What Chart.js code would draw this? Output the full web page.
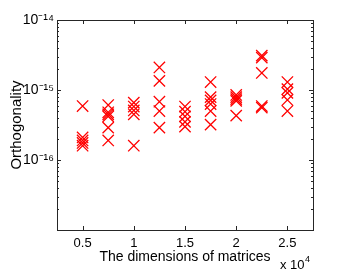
<!DOCTYPE html>
<html>
<head>
<meta charset="utf-8">
<script src="https://cdn.jsdelivr.net/npm/chart.js@4.4.1/dist/chart.umd.min.js"></script>
<style>
  html, body { margin: 0; padding: 0; background: #fff; }
  #wrap { width: 346px; height: 277px; }
</style>
</head>
<body>
<div id="wrap"><canvas id="orthoChart"></canvas></div>
<script>
// matrix sizes (x axis, shown in units of 1e4)
const dimensions = [5000, 7500, 10000, 12500, 15000, 17500, 20000, 22500, 25000];

// orthogonality of each run, one list per matrix size
const orth5000  = [5.9e-16, 2.1e-16, 1.9e-16, 1.75e-16, 1.6e-16];
const orth7500  = [6.1e-16, 4.8e-16, 4.5e-16, 4.2e-16, 2.9e-16, 1.9e-16];
const orth10000 = [6.6e-16, 5.8e-16, 5.1e-16, 4.5e-16, 1.6e-16];
const orth12500 = [2.1e-15, 1.35e-15, 6.8e-16, 5.0e-16, 2.9e-16];
const orth15000 = [5.8e-16, 4.9e-16, 4.2e-16, 3.5e-16, 3.0e-16];
const orth17500 = [1.3e-15, 7.9e-16, 7.1e-16, 6.3e-16, 5.0e-16, 3.2e-16];
const orth20000 = [8.5e-16, 7.9e-16, 7.4e-16, 7.0e-16, 4.3e-16];
const orth22500 = [3.1e-15, 2.9e-15, 1.75e-15, 5.9e-16, 5.6e-16];
const orth25000 = [1.3e-15, 1.03e-15, 9.1e-16, 7.2e-16, 5.0e-16];

const xTickValues = [5000, 10000, 15000, 20000, 25000];
const xTickLabels = ['0.5', '1', '1.5', '2', '2.5'];
const yDecades = [-17, -16, -15, -14];

const runs = [orth5000, orth7500, orth10000, orth12500, orth15000,
              orth17500, orth20000, orth22500, orth25000];
const points = [];
runs.forEach((vals, i) => vals.forEach(v => points.push({x: dimensions[i], y: v})));

const SUP = {'-': '\u207B', '0': '\u2070', '1': '\u00B9', '2': '\u00B2', '3': '\u00B3',
  '4': '\u2074', '5': '\u2075', '6': '\u2076', '7': '\u2077', '8': '\u2078', '9': '\u2079'};
const sup = s => String(s).split('').map(c => SUP[c]).join('');
const isDecade = v => Math.abs(Math.log10(v) - Math.round(Math.log10(v))) < 1e-6;

const font = 'Liberation Sans, Arial, Helvetica, sans-serif';

// matlab style box with inward ticks on all four sides
const frameTicks = {
  id: 'frameTicks',
  afterDraw(chart) {
    const {ctx, chartArea: a, scales: {x, y}} = chart;
    ctx.save();
    ctx.strokeStyle = '#262626';
    ctx.lineWidth = 1;
    ctx.strokeRect(Math.round(a.left) + 0.5, Math.round(a.top) + 0.5,
                   Math.round(a.right - a.left), Math.round(a.bottom - a.top));
    ctx.beginPath();
    x.ticks.forEach(t => {
      const px = Math.round(x.getPixelForValue(t.value)) + 0.5;
      ctx.moveTo(px, a.bottom); ctx.lineTo(px, a.bottom - 4);
      ctx.moveTo(px, a.top); ctx.lineTo(px, a.top + 4);
    });
    y.ticks.forEach(t => {
      const py = Math.round(y.getPixelForValue(t.value)) + 0.5;
      const len = isDecade(t.value) ? 4 : 2;
      ctx.moveTo(a.left, py); ctx.lineTo(a.left + len, py);
      ctx.moveTo(a.right, py); ctx.lineTo(a.right - len, py);
    });
    ctx.stroke();
    // exponent of the x axis
    ctx.fillStyle = '#000';
    ctx.textAlign = 'left';
    ctx.textBaseline = 'alphabetic';
    ctx.font = '13px ' + font;
    ctx.fillText('x 10', 280, 269);
    const w = ctx.measureText('x 10').width;
    ctx.font = '9px ' + font;
    ctx.fillText('4', 280 + w + 0.5, 262);
    ctx.restore();
  }
};

new Chart(document.getElementById('orthoChart'), {
  type: 'scatter',
  data: {
    datasets: [{
      data: points,
      pointStyle: 'crossRot',
      radius: 8,
      hoverRadius: 8,
      borderColor: '#ff0000',
      backgroundColor: '#ff0000',
      borderWidth: 1.3
    }]
  },
  options: {
    responsive: true,
    maintainAspectRatio: false,
    animation: false,
    events: [],
    layout: { padding: { top: 20, right: 33, left: 0, bottom: 0 } },
    plugins: { legend: { display: false }, tooltip: { enabled: false } },
    scales: {
      x: {
        type: 'linear',
        min: 2500,
        max: 27500,
        grid: { display: false, drawTicks: false },
        border: { display: false },
        afterBuildTicks: s => { s.ticks = xTickValues.map(v => ({value: v})); },
        afterFit: s => { s.height = 47; },
        ticks: {
          padding: 6,
          color: '#000',
          font: { family: font, size: 13 },
          callback: v => xTickLabels[xTickValues.indexOf(v)]
        },
        title: {
          display: true,
          text: 'The dimensions of matrices',
          color: '#000',
          font: { family: font, size: 14 },
          padding: { top: 11, bottom: 11 }
        }
      },
      y: {
        type: 'logarithmic',
        min: 1e-17,
        max: 1e-14,
        grid: { display: false, drawTicks: false },
        border: { display: false },
        afterBuildTicks: s => {
          const t = [];
          yDecades.forEach(e => {
            for (let m = 1; m <= 9; m++) {
              if (e === -14 && m > 1) break;
              t.push({value: m * Math.pow(10, e)});
            }
          });
          s.ticks = t;
        },
        afterFit: s => { s.width = 57; },
        ticks: {
          autoSkip: false,
          padding: 3,
          color: '#000',
          font: { family: font, size: 14 },
          callback: v => (isDecade(v) && v > 2e-17) ? '10' + sup(Math.round(Math.log10(v))) : ''
        },
        title: {
          display: true,
          text: 'Orthogonality',
          color: '#000',
          font: { family: font, size: 15 },
          padding: { top: 8, bottom: 8 }
        }
      }
    }
  },
  plugins: [frameTicks]
});
</script>
</body>
</html>
